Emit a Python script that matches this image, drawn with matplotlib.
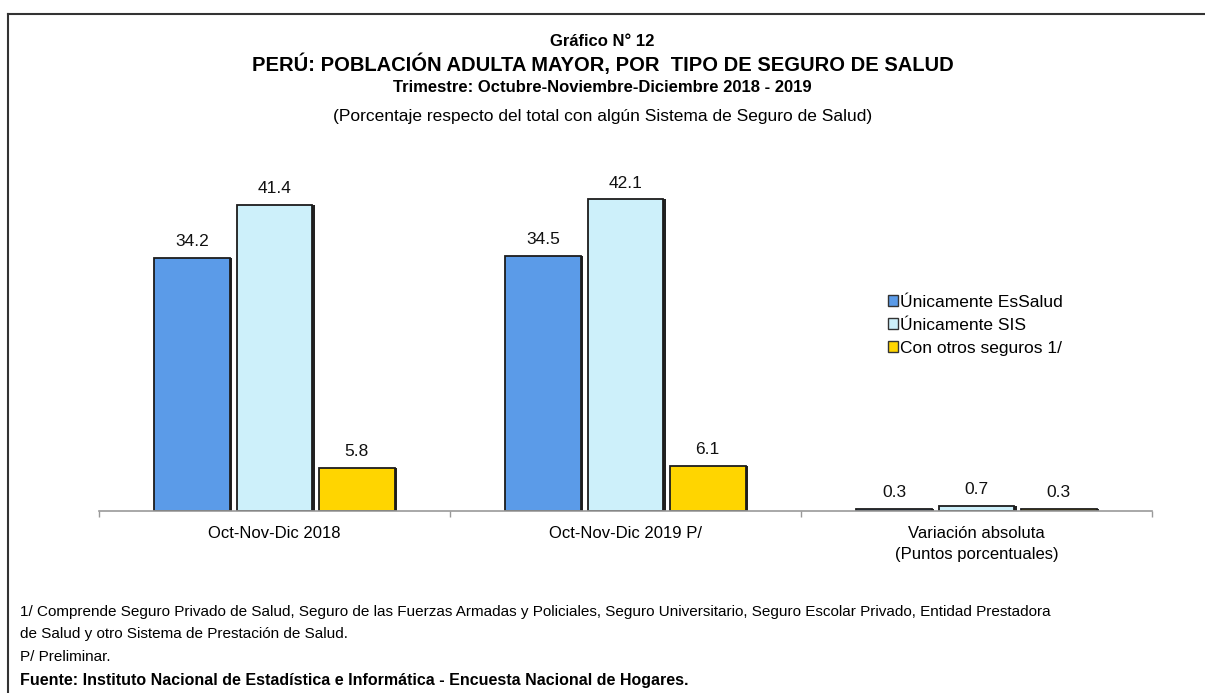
import numpy as np
import matplotlib
matplotlib.use('Agg')
import matplotlib.pyplot as plt
from matplotlib.lines import Line2D
from matplotlib.patches import Patch

plt.rcParams['font.family'] = ['Liberation Sans', 'DejaVu Sans']

CATEGORIES = ['Oct-Nov-Dic 2018', 'Oct-Nov-Dic 2019 P/',
              'Variación absoluta\n(Puntos porcentuales)']
SERIES = ['Únicamente EsSalud', 'Únicamente SIS', 'Con otros seguros 1/']
ESSALUD = [34.2, 34.5, 0.3]
SIS = [41.4, 42.1, 0.7]
OTROS = [5.8, 6.1, 0.3]
COLORS = ['#5b9be8', '#cdf0fa', '#ffd500']

FOOTNOTES = [
    '1/ Comprende Seguro Privado de Salud, Seguro de las Fuerzas Armadas y '
    'Policiales, Seguro Universitario, Seguro Escolar Privado, Entidad Prestadora',
    'de Salud y otro Sistema de Prestación de Salud.',
    'P/ Preliminar.',
]
SOURCE = 'Fuente: Instituto Nacional de Estadística e Informática - Encuesta Nacional de Hogares.'


def run():
    fig = plt.figure(figsize=(12.05, 6.93), dpi=100)
    W, H = 1205.0, 693.0

    # outer frame (left + top)
    fig.add_artist(Line2D([8 / W, 8 / W], [0, 1 - 14 / H], color='#333333', lw=1.5))
    fig.add_artist(Line2D([8 / W, 1], [1 - 14 / H, 1 - 14 / H], color='#333333', lw=1.5))

    ax = fig.add_axes([99 / W, 1 - 511 / H, (1152 - 99) / W, 370 / H])
    x = np.arange(len(CATEGORIES))
    width = 0.216
    step = 0.234
    data = [ESSALUD, SIS, OTROS]
    for i, (vals, col) in enumerate(zip(data, COLORS)):
        pos = x + (i - 1) * step
        # shadow
        ax.bar(pos + 0.006, vals, width, color='#222222', zorder=1)
        bars = ax.bar(pos, vals, width, color=col, edgecolor='#1c1c1c',
                      linewidth=1.3, zorder=2)
        for b, v in zip(bars, vals):
            ax.text(b.get_x() + b.get_width() / 2, v + 1.2, f'{v:.1f}',
                    ha='center', va='bottom', fontsize=12.5, color='#111111')

    ax.set_xlim(-0.5, 2.5)
    ax.set_ylim(0, 50)
    ax.set_yticks([])
    ax.set_xticks([-0.5, 0.5, 1.5, 2.5], minor=False)
    ax.set_xticklabels([])
    ax.set_xticks(x, minor=True)
    ax.set_xticklabels(CATEGORIES, minor=True, fontsize=12, linespacing=1.45)
    ax.tick_params(axis='x', which='major', length=4, color='#999999', width=1)
    ax.tick_params(axis='x', which='minor', length=0, pad=11)
    for s in ['top', 'right', 'left']:
        ax.spines[s].set_visible(False)
    ax.spines['bottom'].set_color('#999999')
    ax.spines['bottom'].set_linewidth(1.2)

    handles = [Patch(facecolor=c, edgecolor='#333333', label=s)
               for c, s in zip(COLORS, SERIES)]
    fig.legend(handles=handles, loc='upper left', bbox_to_anchor=(881 / W, 1 - 288 / H),
               frameon=False, fontsize=12.5, handlelength=0.6, handleheight=0.6,
               handletextpad=0.1, labelspacing=0.45, borderaxespad=0)

    fig.text(0.5, 1 - 42 / H, 'Gráfico N° 12', ha='center', va='center',
             fontsize=12, fontweight='bold')
    fig.text(0.5, 1 - 64 / H, 'PERÚ: POBLACIÓN ADULTA MAYOR, POR  TIPO DE SEGURO DE SALUD',
             ha='center', va='center', fontsize=14.5, fontweight='bold')
    fig.text(0.5, 1 - 87 / H, 'Trimestre: Octubre-Noviembre-Diciembre 2018 - 2019',
             ha='center', va='center', fontsize=12, fontweight='bold')
    fig.text(0.5, 1 - 117 / H,
             '(Porcentaje respecto del total con algún Sistema de Seguro de Salud)',
             ha='center', va='center', fontsize=12.5)

    for yy, t in zip([612, 634, 657], FOOTNOTES):
        fig.text(20 / W, 1 - yy / H, t, ha='left', va='center', fontsize=11)
    fig.text(20 / W, 1 - 681 / H, SOURCE, ha='left', va='center', fontsize=11.5,
             fontweight='bold')

    fig.savefig('out.png', dpi=100)


if __name__ == '__main__':
    run()
